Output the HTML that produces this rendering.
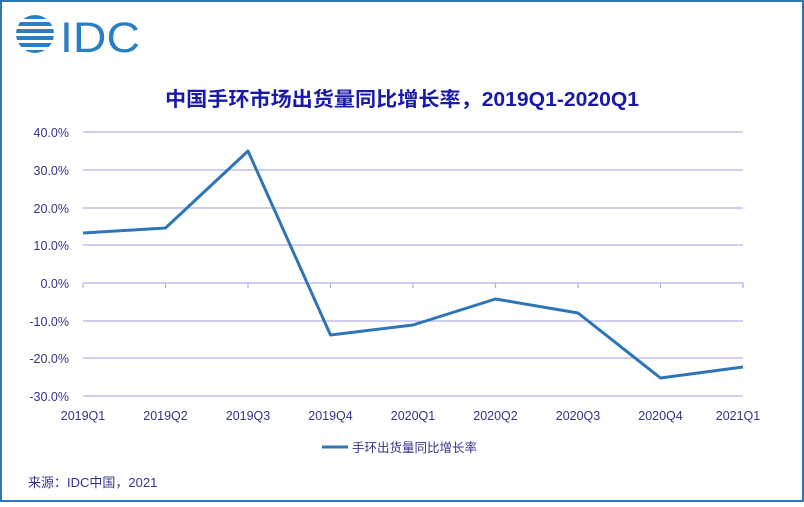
<!DOCTYPE html>
<html><head><meta charset="utf-8"><style>
html,body{margin:0;padding:0;background:#fff}
</style></head><body>
<svg width="804" height="502" xmlns="http://www.w3.org/2000/svg" font-family="'Liberation Sans','Noto Sans CJK SC',sans-serif">
<rect x="1" y="1" width="802" height="500" fill="#fff" stroke="#2e75b6" stroke-width="2"/>
<g fill="#2a7fc4">
<clipPath id="c"><circle cx="35" cy="34" r="19"/></clipPath>
<g clip-path="url(#c)">
<rect x="14" y="15" width="42" height="4"/>
<rect x="14" y="22" width="42" height="4"/>
<rect x="14" y="29" width="42" height="4"/>
<rect x="14" y="36" width="42" height="4"/>
<rect x="14" y="43" width="42" height="4"/>
<rect x="14" y="50" width="42" height="4"/>
</g>
<text x="60" y="52" font-size="43" fill="#2a7fc4" textLength="80" lengthAdjust="spacingAndGlyphs">IDC</text>
</g>
<text x="402" y="106" font-size="20" font-weight="bold" fill="#1a1aa8" text-anchor="middle" textLength="474" lengthAdjust="spacingAndGlyphs">中国手环市场出货量同比增长率，2019Q1-2020Q1</text>
<g stroke="#b0b0ec" stroke-width="1.3">
<line x1="83" x2="743" y1="132" y2="132"/>
<line x1="83" x2="743" y1="170" y2="170"/>
<line x1="83" x2="743" y1="208" y2="208"/>
<line x1="83" x2="743" y1="245" y2="245"/>
<line x1="83" x2="743" y1="283" y2="283"/>
<line x1="83" x2="743" y1="321" y2="321"/>
<line x1="83" x2="743" y1="358" y2="358"/>
<line x1="83" x2="743" y1="396" y2="396"/>
<path d="M83 283v5M165.5 283v5M248 283v5M330.5 283v5M413 283v5M495.5 283v5M578 283v5M660.5 283v5M743 283v5"/>
</g>
<g font-size="12.5" fill="#33338a" text-anchor="end">
<text x="69" y="137">40.0%</text>
<text x="69" y="175">30.0%</text>
<text x="69" y="213">20.0%</text>
<text x="69" y="250">10.0%</text>
<text x="69" y="288">0.0%</text>
<text x="69" y="326">-10.0%</text>
<text x="69" y="363">-20.0%</text>
<text x="69" y="401">-30.0%</text>
</g>
<g font-size="12.5" fill="#33338a" text-anchor="middle">
<text x="83" y="420">2019Q1</text>
<text x="165.5" y="420">2019Q2</text>
<text x="248" y="420">2019Q3</text>
<text x="330.5" y="420">2019Q4</text>
<text x="413" y="420">2020Q1</text>
<text x="495.5" y="420">2020Q2</text>
<text x="578" y="420">2020Q3</text>
<text x="660.5" y="420">2020Q4</text>
<text x="738" y="420">2021Q1</text>
</g>
<polyline fill="none" stroke="#2e75b6" stroke-width="3" stroke-linejoin="round" points="83,233 165.5,228 248,151 330.5,335 413,325 495.5,299 578,313 660.5,378 743,367"/>
<line x1="322" x2="348" y1="447" y2="447" stroke="#2e75b6" stroke-width="3"/>
<text x="352" y="452" font-size="12.5" fill="#33338a">手环出货量同比增长率</text>
<text x="28" y="487" font-size="13" fill="#33338a">来源：IDC中国，2021</text>
</svg>
</body></html>
